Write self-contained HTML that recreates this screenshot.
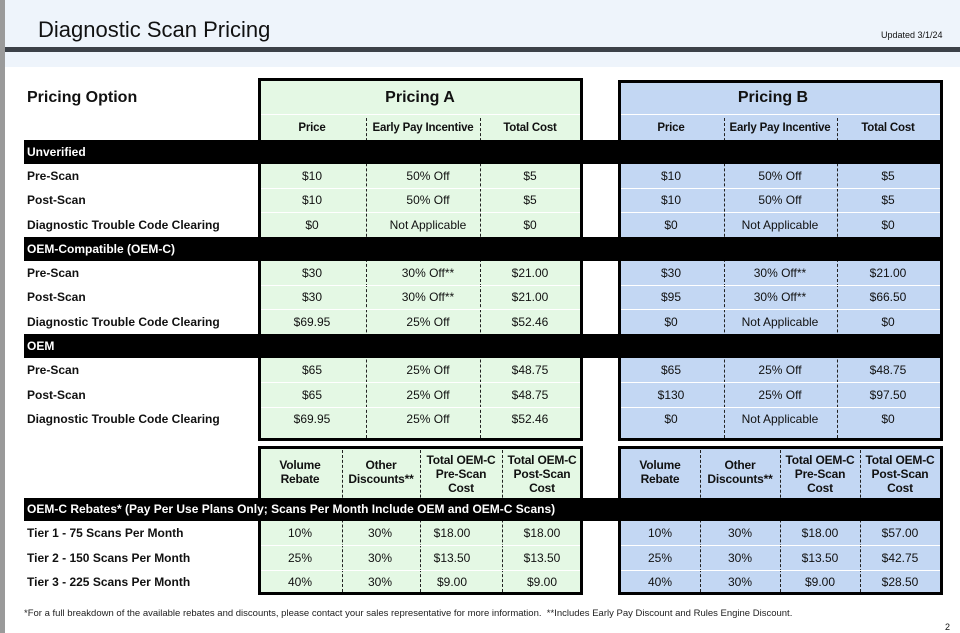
<!DOCTYPE html>
<html><head><meta charset="utf-8"><style>
*{margin:0;padding:0;box-sizing:border-box}
body{width:960px;height:633px;position:relative;background:#fff;font-family:"Liberation Sans",Arial,sans-serif;color:#111;overflow:hidden}
.a{position:absolute}
.c{position:absolute;width:120px;text-align:center;font-size:12px;height:16px;line-height:16px;white-space:nowrap}
.b{font-weight:bold}
.s{font-size:11.5px;letter-spacing:-0.2px}
.l{position:absolute;left:27px;font-size:12px;font-weight:bold;height:16px;line-height:16px;white-space:nowrap}
.band{position:absolute;left:24px;width:918px;background:#000;color:#fff;font-size:12px;font-weight:bold;padding-left:3px;white-space:nowrap}
.box{position:absolute;border:3px solid #000}
.g{background:#e4f8e4}
.bl{background:#c3d7f3}
.dv{position:absolute;border-left:1px dashed #222;width:0}
.hl{position:absolute;height:1px;background:#fff}
.h2{position:absolute;width:90px;text-align:center;font-size:12px;font-weight:bold;line-height:14px;letter-spacing:-0.2px}
</style></head><body>
<div class="a" style="left:0;top:0;width:5px;height:633px;background:#9a9a9a"></div>
<div class="a" style="left:5px;top:0;width:955px;height:67px;background:#eef4fb"></div>
<div class="a" style="left:5px;top:47px;width:955px;height:5px;background:#3c4148"></div>
<div class="a" style="left:38px;top:16px;font-size:22px;line-height:28px">Diagnostic Scan Pricing</div>
<div class="a" style="left:881px;top:30px;font-size:9px">Updated 3/1/24</div>

<div class="a b" style="left:27px;top:89px;font-size:16px">Pricing Option</div>

<div class="box g" style="left:258px;top:78px;width:325px;height:363px"></div>
<div class="box bl" style="left:618px;top:80px;width:325px;height:361px"></div>
<div class="hl" style="left:261px;top:114px;width:319px"></div>
<div class="hl" style="left:621px;top:114px;width:319px"></div>

<div class="c b" style="left:360px;top:90px;font-size:16px">Pricing A</div>
<div class="c b" style="left:713px;top:90px;font-size:16px">Pricing B</div>

<div class="dv" style="left:366px;top:118px;height:320px"></div>
<div class="dv" style="left:480px;top:118px;height:320px"></div>
<div class="dv" style="left:724px;top:118px;height:320px"></div>
<div class="dv" style="left:837px;top:118px;height:320px"></div>

<div class="hl" style="left:261px;top:188px;width:319px"></div><div class="hl" style="left:621px;top:188px;width:319px"></div>
<div class="hl" style="left:261px;top:212px;width:319px"></div><div class="hl" style="left:621px;top:212px;width:319px"></div>
<div class="hl" style="left:261px;top:285px;width:319px"></div><div class="hl" style="left:621px;top:285px;width:319px"></div>
<div class="hl" style="left:261px;top:309px;width:319px"></div><div class="hl" style="left:621px;top:309px;width:319px"></div>
<div class="hl" style="left:261px;top:382px;width:319px"></div><div class="hl" style="left:621px;top:382px;width:319px"></div>
<div class="hl" style="left:261px;top:407px;width:319px"></div><div class="hl" style="left:621px;top:407px;width:319px"></div>

<div class="c b s" style="left:252px;top:120px">Price</div>
<div class="c b s" style="left:363px;top:120px">Early Pay Incentive</div>
<div class="c b s" style="left:470px;top:120px">Total Cost</div>
<div class="c b s" style="left:611px;top:120px">Price</div>
<div class="c b s" style="left:720px;top:120px">Early Pay Incentive</div>
<div class="c b s" style="left:828px;top:120px">Total Cost</div>

<div class="band" style="top:140px;height:24px;line-height:24px">Unverified</div>
<div class="band" style="top:237px;height:24px;line-height:24px">OEM-Compatible (OEM-C)</div>
<div class="band" style="top:334px;height:24px;line-height:24px">OEM</div>

<div class="l" style="top:168px">Pre-Scan</div>
<div class="l" style="top:192px">Post-Scan</div>
<div class="l" style="top:217px">Diagnostic Trouble Code Clearing</div>
<div class="l" style="top:265px">Pre-Scan</div>
<div class="l" style="top:289px">Post-Scan</div>
<div class="l" style="top:314px">Diagnostic Trouble Code Clearing</div>
<div class="l" style="top:362px">Pre-Scan</div>
<div class="l" style="top:387px">Post-Scan</div>
<div class="l" style="top:411px">Diagnostic Trouble Code Clearing</div>

<div class="c" style="left:252px;top:168px">$10</div><div class="c" style="left:368px;top:168px">50% Off</div><div class="c" style="left:470px;top:168px">$5</div>
<div class="c" style="left:252px;top:192px">$10</div><div class="c" style="left:368px;top:192px">50% Off</div><div class="c" style="left:470px;top:192px">$5</div>
<div class="c" style="left:252px;top:217px">$0</div><div class="c" style="left:368px;top:217px">Not Applicable</div><div class="c" style="left:470px;top:217px">$0</div>
<div class="c" style="left:252px;top:265px">$30</div><div class="c" style="left:368px;top:265px">30% Off**</div><div class="c" style="left:470px;top:265px">$21.00</div>
<div class="c" style="left:252px;top:289px">$30</div><div class="c" style="left:368px;top:289px">30% Off**</div><div class="c" style="left:470px;top:289px">$21.00</div>
<div class="c" style="left:252px;top:314px">$69.95</div><div class="c" style="left:368px;top:314px">25% Off</div><div class="c" style="left:470px;top:314px">$52.46</div>
<div class="c" style="left:252px;top:362px">$65</div><div class="c" style="left:368px;top:362px">25% Off</div><div class="c" style="left:470px;top:362px">$48.75</div>
<div class="c" style="left:252px;top:387px">$65</div><div class="c" style="left:368px;top:387px">25% Off</div><div class="c" style="left:470px;top:387px">$48.75</div>
<div class="c" style="left:252px;top:411px">$69.95</div><div class="c" style="left:368px;top:411px">25% Off</div><div class="c" style="left:470px;top:411px">$52.46</div>

<div class="c" style="left:611px;top:168px">$10</div><div class="c" style="left:720px;top:168px">50% Off</div><div class="c" style="left:828px;top:168px">$5</div>
<div class="c" style="left:611px;top:192px">$10</div><div class="c" style="left:720px;top:192px">50% Off</div><div class="c" style="left:828px;top:192px">$5</div>
<div class="c" style="left:611px;top:217px">$0</div><div class="c" style="left:720px;top:217px">Not Applicable</div><div class="c" style="left:828px;top:217px">$0</div>
<div class="c" style="left:611px;top:265px">$30</div><div class="c" style="left:720px;top:265px">30% Off**</div><div class="c" style="left:828px;top:265px">$21.00</div>
<div class="c" style="left:611px;top:289px">$95</div><div class="c" style="left:720px;top:289px">30% Off**</div><div class="c" style="left:828px;top:289px">$66.50</div>
<div class="c" style="left:611px;top:314px">$0</div><div class="c" style="left:720px;top:314px">Not Applicable</div><div class="c" style="left:828px;top:314px">$0</div>
<div class="c" style="left:611px;top:362px">$65</div><div class="c" style="left:720px;top:362px">25% Off</div><div class="c" style="left:828px;top:362px">$48.75</div>
<div class="c" style="left:611px;top:387px">$130</div><div class="c" style="left:720px;top:387px">25% Off</div><div class="c" style="left:828px;top:387px">$97.50</div>
<div class="c" style="left:611px;top:411px">$0</div><div class="c" style="left:720px;top:411px">Not Applicable</div><div class="c" style="left:828px;top:411px">$0</div>

<div class="box g" style="left:258px;top:446px;width:325px;height:149px"></div>
<div class="box bl" style="left:618px;top:446px;width:325px;height:149px"></div>
<div class="dv" style="left:342px;top:450px;height:142px"></div>
<div class="dv" style="left:420px;top:450px;height:142px"></div>
<div class="dv" style="left:502px;top:450px;height:142px"></div>
<div class="dv" style="left:700px;top:450px;height:142px"></div>
<div class="dv" style="left:780px;top:450px;height:142px"></div>
<div class="dv" style="left:860px;top:450px;height:142px"></div>
<div class="hl" style="left:261px;top:545px;width:319px"></div><div class="hl" style="left:621px;top:545px;width:319px"></div>
<div class="hl" style="left:261px;top:570px;width:319px"></div><div class="hl" style="left:621px;top:570px;width:319px"></div>

<div class="h2" style="left:255px;top:458px">Volume<br>Rebate</div>
<div class="h2" style="left:336px;top:458px">Other<br>Discounts**</div>
<div class="h2" style="left:416px;top:453px">Total OEM-C<br>Pre-Scan<br>Cost</div>
<div class="h2" style="left:497px;top:453px">Total OEM-C<br>Post-Scan<br>Cost</div>
<div class="h2" style="left:615px;top:458px">Volume<br>Rebate</div>
<div class="h2" style="left:695px;top:458px">Other<br>Discounts**</div>
<div class="h2" style="left:775px;top:453px">Total OEM-C<br>Pre-Scan<br>Cost</div>
<div class="h2" style="left:855px;top:453px">Total OEM-C<br>Post-Scan<br>Cost</div>

<div class="band" style="top:498px;height:23px;line-height:23px">OEM-C Rebates* (Pay Per Use Plans Only; Scans Per Month Include OEM and OEM-C Scans)</div>

<div class="l" style="top:525px">Tier 1 - 75 Scans Per Month</div>
<div class="l" style="top:550px">Tier 2 - 150 Scans Per Month</div>
<div class="l" style="top:574px">Tier 3 - 225 Scans Per Month</div>

<div class="c" style="left:240px;top:525px">10%</div><div class="c" style="left:320px;top:525px">30%</div><div class="c" style="left:392px;top:525px">$18.00</div><div class="c" style="left:482px;top:525px">$18.00</div>
<div class="c" style="left:240px;top:550px">25%</div><div class="c" style="left:320px;top:550px">30%</div><div class="c" style="left:392px;top:550px">$13.50</div><div class="c" style="left:482px;top:550px">$13.50</div>
<div class="c" style="left:240px;top:574px">40%</div><div class="c" style="left:320px;top:574px">30%</div><div class="c" style="left:392px;top:574px">$9.00</div><div class="c" style="left:482px;top:574px">$9.00</div>
<div class="c" style="left:600px;top:525px">10%</div><div class="c" style="left:680px;top:525px">30%</div><div class="c" style="left:760px;top:525px">$18.00</div><div class="c" style="left:840px;top:525px">$57.00</div>
<div class="c" style="left:600px;top:550px">25%</div><div class="c" style="left:680px;top:550px">30%</div><div class="c" style="left:760px;top:550px">$13.50</div><div class="c" style="left:840px;top:550px">$42.75</div>
<div class="c" style="left:600px;top:574px">40%</div><div class="c" style="left:680px;top:574px">30%</div><div class="c" style="left:760px;top:574px">$9.00</div><div class="c" style="left:840px;top:574px">$28.50</div>

<div class="a" style="left:24px;top:608px;font-size:9.5px;white-space:nowrap;color:#222">*For a full breakdown of the available rebates and discounts, please contact your sales representative for more information.&nbsp; **Includes Early Pay Discount and Rules Engine Discount.</div>
<div class="a" style="left:945px;top:622px;font-size:9px">2</div>
</body></html>
